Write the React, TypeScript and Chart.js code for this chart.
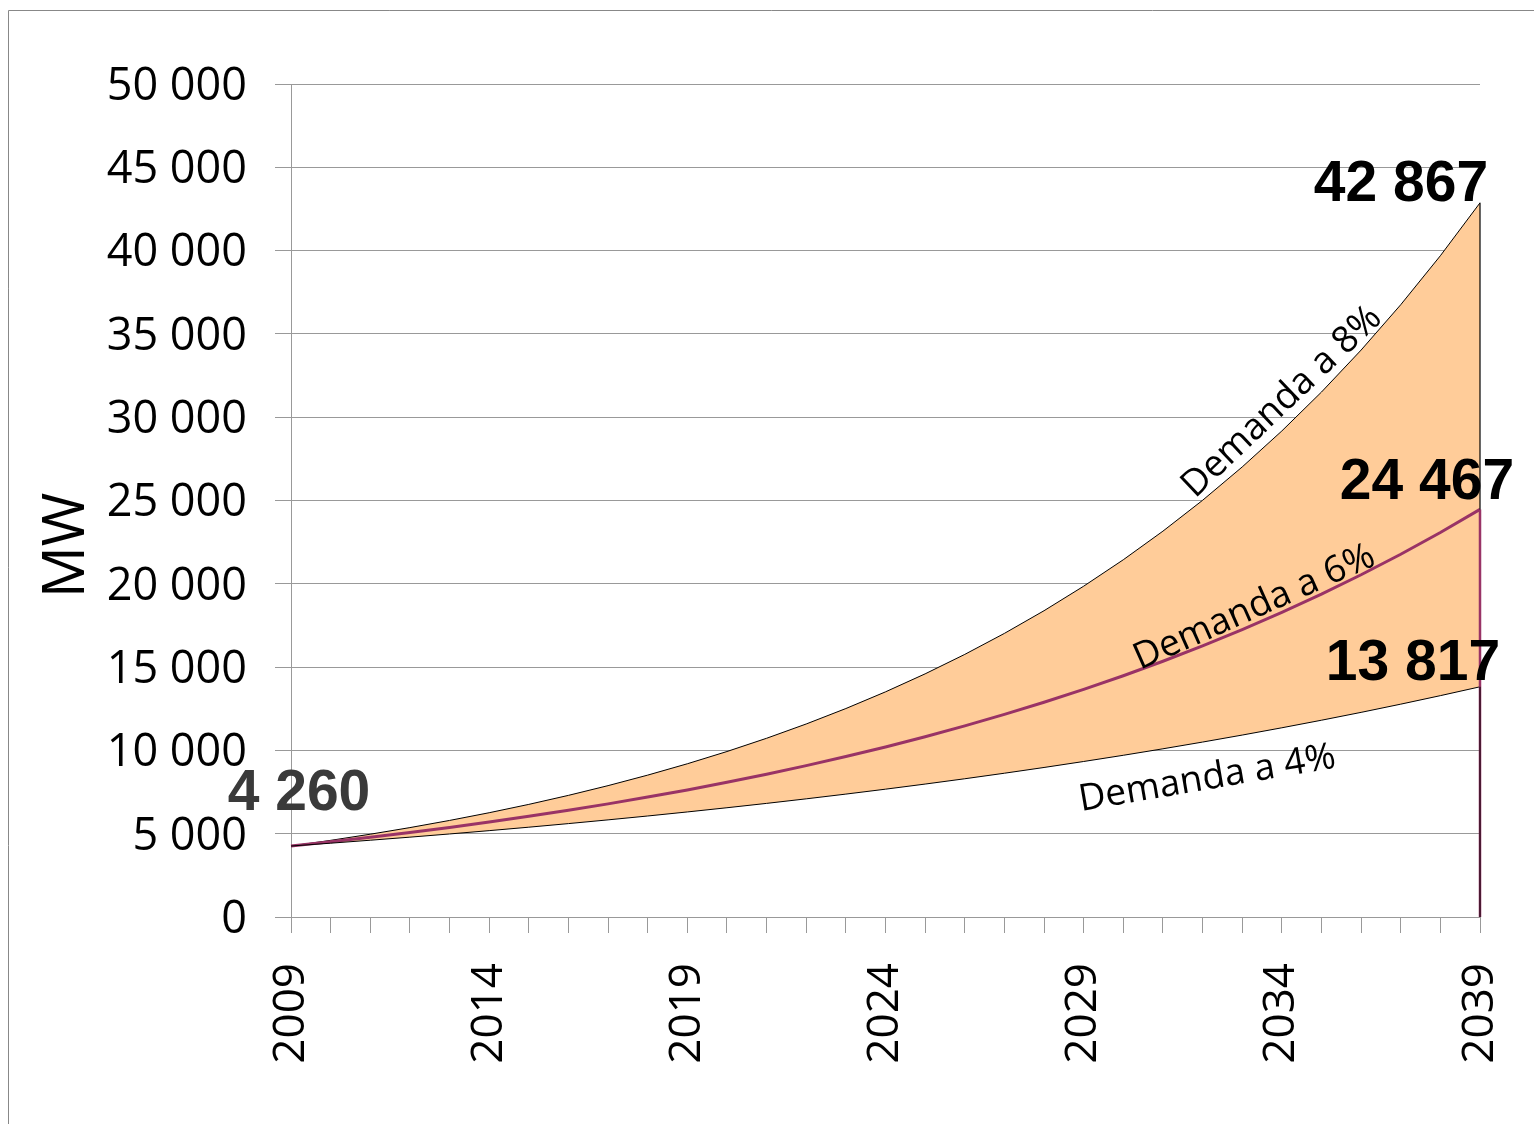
import React, { useEffect, useRef } from 'react';
import { Chart, registerables } from 'chart.js';

Chart.register(...registerables);

// ---- data ----
const years = [
  '2009', '2010', '2011', '2012', '2013', '2014', '2015', '2016', '2017', '2018',
  '2019', '2020', '2021', '2022', '2023', '2024', '2025', '2026', '2027', '2028',
  '2029', '2030', '2031', '2032', '2033', '2034', '2035', '2036', '2037', '2038', '2039',
];

const demand8 = [
  4260, 4601, 4969, 5366, 5796, 6259, 6760, 7301, 7885, 8516,
  9197, 9933, 10728, 11586, 12513, 13514, 14595, 15762, 17023, 18385,
  19856, 21444, 23160, 25012, 27013, 29174, 31508, 34029, 36751, 39691, 42867,
];

const demand6 = [
  4260, 4516, 4787, 5074, 5378, 5701, 6043, 6405, 6790, 7197,
  7629, 8087, 8572, 9086, 9631, 10209, 10822, 11471, 12159, 12889,
  13662, 14482, 15351, 16272, 17248, 18283, 19380, 20543, 21776, 23082, 24467,
];

const demand4 = [
  4260, 4430, 4608, 4792, 4984, 5183, 5390, 5606, 5830, 6063,
  6306, 6558, 6820, 7093, 7377, 7672, 7979, 8298, 8630, 8975,
  9334, 9707, 10096, 10500, 10920, 11357, 11811, 12283, 12775, 13286, 13817,
];

const yMin = 0;
const yMax = 50000;
const yStep = 5000;
const xLabelEvery = 5;

const seriesNames = ['Demanda a 4%', 'Demanda a 6%', 'Demanda a 8%'];
const yTitle = 'MW';

// ---- styles / placement (not data) ----
const W = 1534;
const H = 1124;
const gridColor = '#999999';
const fillColor = '#FFCC99';
const purple = '#993366';
const tickFont = '"Open Sans", "Noto Sans", sans-serif';
const boldFont = '"Liberation Sans", Arial, sans-serif';

const fmt = (v: number) => String(Math.round(v)).replace(/\B(?=(\d{3})+(?!\d))/g, ' ');

// label anchors: dataset index, point index, pixel offsets
const valueLabels = [
  { ds: 2, idx: 30, dx: -79, dy: -2, color: '#000000' },
  { ds: 1, idx: 30, dx: -53, dy: -10, color: '#000000' },
  { ds: 0, idx: 30, dx: -67, dy: -7, color: '#000000' },
  { ds: 0, idx: 0, dx: 8, dy: -36, color: '#3a3a3a' },
];

// series name annotations: name index, x (category index), y value, angle deg
const nameLabels = [
  { name: 2, xi: 22.81, yv: 25090, angle: -43.5 },
  { name: 1, xi: 21.42, yv: 14825, angle: -24 },
  { name: 0, xi: 19.93, yv: 6362, angle: -9.7 },
];

const overlayPlugin = {
  id: 'overlay',
  beforeDraw(chart: any) {
    const ctx = chart.ctx;
    ctx.save();
    ctx.strokeStyle = '#888888';
    ctx.lineWidth = 1;
    ctx.beginPath();
    ctx.moveTo(8.5, H);
    ctx.lineTo(8.5, 10.5);
    ctx.lineTo(W, 10.5);
    ctx.stroke();
    ctx.restore();
  },
  afterDatasetsDraw(chart: any) {
    const ctx = chart.ctx;
    const xs = chart.scales.x;
    const ys = chart.scales.y;
    const last = years.length - 1;
    const x = xs.getPixelForValue(last);
    const y0 = ys.getPixelForValue(0);
    const drawV = (val: number, color: string, w: number) => {
      ctx.save();
      ctx.strokeStyle = color;
      ctx.lineWidth = w;
      ctx.beginPath();
      ctx.moveTo(x, ys.getPixelForValue(val));
      ctx.lineTo(x, y0);
      ctx.stroke();
      ctx.restore();
    };
    drawV(demand8[last], '#000000', 1.2);
    drawV(demand6[last], purple, 2.5);
    drawV(demand4[last], '#000000', 1);
  },
  afterDraw(chart: any) {
    const ctx = chart.ctx;
    const xs = chart.scales.x;
    const ys = chart.scales.y;
    const sets = [demand4, demand6, demand8];
    ctx.save();
    // value labels
    ctx.font = `bold 57px ${boldFont}`;
    ctx.textAlign = 'center';
    ctx.textBaseline = 'alphabetic';
    valueLabels.forEach((l) => {
      const v = sets[l.ds][l.idx];
      const px = xs.getPixelForValue(l.idx);
      const py = ys.getPixelForValue(v);
      ctx.fillStyle = l.color;
      ctx.fillText(fmt(v), px + l.dx, py + l.dy);
    });
    // series name labels
    ctx.font = `37px ${tickFont}`;
    ctx.fillStyle = '#000000';
    ctx.textAlign = 'left';
    nameLabels.forEach((n) => {
      const px = xs.getPixelForValue(n.xi);
      const py = ys.getPixelForValue(n.yv);
      ctx.save();
      ctx.translate(px, py);
      ctx.rotate((n.angle * Math.PI) / 180);
      ctx.fillText(seriesNames[n.name], 0, 0);
      ctx.restore();
    });
    // y title
    ctx.save();
    ctx.font = `58px ${tickFont}`;
    ctx.textAlign = 'center';
    ctx.textBaseline = 'middle';
    ctx.translate(67, (ys.top + ys.bottom) / 2 + 45);
    ctx.rotate(-Math.PI / 2);
    ctx.fillText(yTitle, 0, 0);
    ctx.restore();
    ctx.restore();
  },
};

export default function App() {
  const ref = useRef<HTMLCanvasElement | null>(null);

  useEffect(() => {
    if (!ref.current) return;
    const chart = new Chart(ref.current, {
      type: 'line',
      data: {
        labels: years,
        datasets: [
          {
            label: seriesNames[0],
            data: demand4,
            borderColor: '#000000',
            borderWidth: 1,
            pointRadius: 0,
            fill: false,
            tension: 0,
          },
          {
            label: seriesNames[1],
            data: demand6,
            borderColor: purple,
            borderWidth: 3,
            pointRadius: 0,
            fill: false,
            tension: 0,
          },
          {
            label: seriesNames[2],
            data: demand8,
            borderColor: '#000000',
            borderWidth: 1,
            pointRadius: 0,
            backgroundColor: fillColor,
            fill: '-2',
            tension: 0,
          },
        ],
      },
      options: {
        responsive: false,
        animation: false,
        devicePixelRatio: 1,
        layout: { padding: { left: 0, right: 54, top: 84, bottom: 0 } },
        plugins: {
          legend: { display: false },
          tooltip: { enabled: false },
          title: { display: false },
        },
        scales: {
          x: {
            type: 'category',
            offset: false,
            grid: {
              drawOnChartArea: false,
              drawTicks: true,
              tickLength: 16,
              color: gridColor,
              lineWidth: 1,
            },
            border: { display: true, color: gridColor, width: 1 },
            ticks: {
              autoSkip: false,
              minRotation: 90,
              maxRotation: 90,
              padding: 30,
              color: '#000000',
              font: { family: tickFont, size: 44 },
              callback: (_v: any, i: number) => (i % xLabelEvery === 0 ? years[i] : ''),
            },
            afterFit: (s: any) => {
              s.height = 207;
              s.paddingLeft = 0;
              s.paddingRight = 0;
            },
          },
          y: {
            min: yMin,
            max: yMax,
            grid: {
              drawTicks: true,
              tickLength: 16,
              color: gridColor,
              lineWidth: 1,
            },
            border: { display: true, color: gridColor, width: 1 },
            ticks: {
              stepSize: yStep,
              padding: 28,
              labelOffset: 3,
              color: '#000000',
              font: { family: tickFont, size: 45 },
              callback: (v: any) => fmt(Number(v)),
            },
            afterFit: (s: any) => {
              s.width = 291;
            },
          },
        },
      },
      plugins: [overlayPlugin],
    } as any);
    return () => chart.destroy();
  }, []);

  return (
    <div style={{ position: 'fixed', left: 0, top: 0, width: W, height: H, background: '#ffffff' }}>
      <canvas ref={ref} width={W} height={H} style={{ width: W, height: H, display: 'block' }} />
    </div>
  );
}
